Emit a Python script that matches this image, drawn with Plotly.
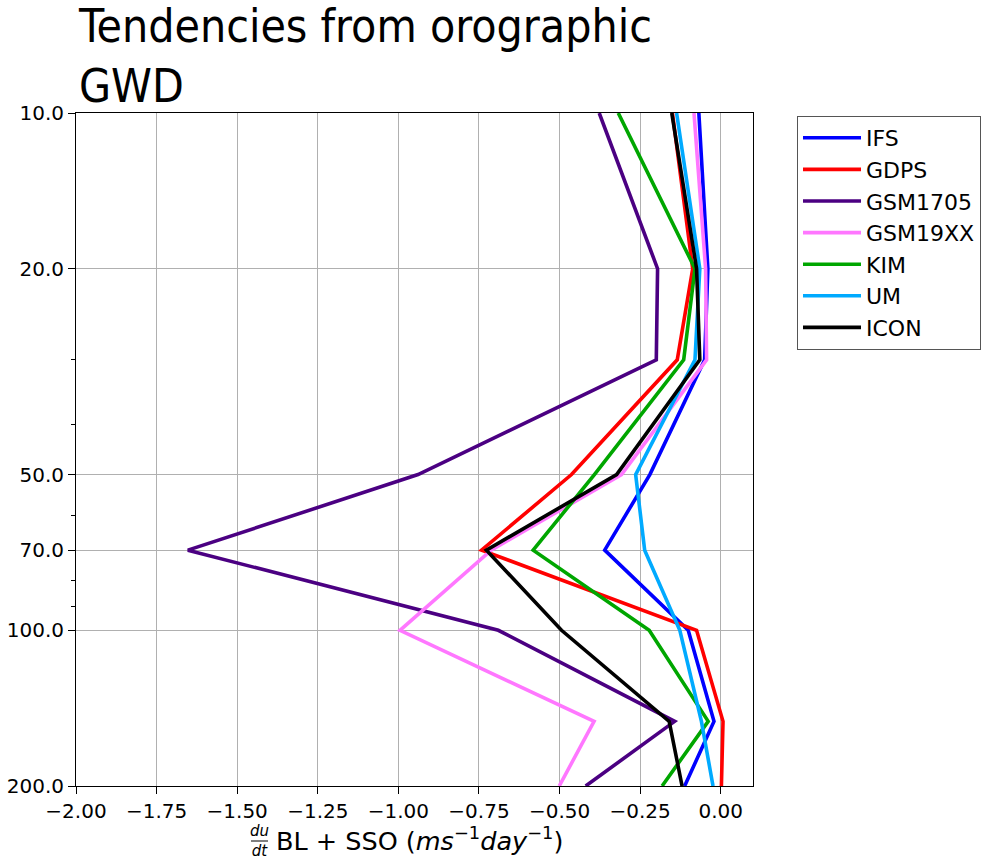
import plotly.graph_objects as go

# Pressure levels (hPa)
pressure = [10, 20, 30, 50, 70, 100, 150, 200]

# Zonal wind tendency du/dt from BL + SSO schemes (m s-1 day-1)
ifs = [-0.068, -0.040, -0.050, -0.220, -0.360, -0.101, -0.021, -0.112]
gdps = [-0.150, -0.087, -0.135, -0.463, -0.742, -0.075, 0.007, 0.002]
gsm1705 = [-0.377, -0.196, -0.200, -0.939, -1.653, -0.690, -0.143, -0.419]
gsm19xx = [-0.083, -0.047, -0.044, -0.308, -0.712, -0.995, -0.393, -0.501]
kim = [-0.318, -0.080, -0.115, -0.392, -0.582, -0.222, -0.039, -0.182]
um = [-0.137, -0.065, -0.080, -0.264, -0.236, -0.127, -0.060, -0.024]
icon = [-0.152, -0.075, -0.065, -0.323, -0.727, -0.494, -0.160, -0.120]

model_names = ["IFS", "GDPS", "GSM1705", "GSM19XX", "KIM", "UM", "ICON"]
model_values = [ifs, gdps, gsm1705, gsm19xx, kim, um, icon]
model_colors = ["#0000ff", "#ff0000", "#4b0082", "#ff77ff", "#00a600", "#00aaff", "#000000"]

x_ticks = [-2.0, -1.75, -1.5, -1.25, -1.0, -0.75, -0.5, -0.25, 0.0]
x_tick_text = ["\u22122.00", "\u22121.75", "\u22121.50", "\u22121.25", "\u22121.00",
               "\u22120.75", "\u22120.50", "\u22120.25", "0.00"]
y_ticks = [10, 20, 50, 70, 100, 200]
y_tick_text = ["10.0", "20.0", "50.0", "70.0", "100.0", "200.0"]
y_minor = [30, 40, 60, 80, 90]

W, H = 982, 861
L, R, T, B = 76, 753, 113, 786


def px_x(px):
    return (px - L) / (R - L)


def px_y(py):
    return (B - py) / (B - T)


fig = go.Figure()
for name, vals, col in zip(model_names, model_values, model_colors):
    fig.add_trace(go.Scatter(
        x=vals, y=pressure, mode="lines", name=name,
        line=dict(color=col, width=3.6),
    ))

axis_common = dict(
    showline=True, linecolor="#000000", linewidth=1, mirror=True,
    ticks="outside", ticklen=7, tickwidth=1, tickcolor="#000000",
    showgrid=True, gridcolor="#b0b0b0", gridwidth=1, zeroline=False,
    tickfont=dict(family="DejaVu Sans", size=20, color="#000000"),
)

fig.update_xaxes(
    range=[-2.0, 0.1], tickmode="array", tickvals=x_ticks, ticktext=x_tick_text,
    **axis_common,
)
fig.update_yaxes(
    type="log", range=[2.30103, 1.0], tickmode="array",
    tickvals=y_ticks, ticktext=y_tick_text,
    minor=dict(tickvals=y_minor, ticks="outside", ticklen=4, tickcolor="#000000",
               showgrid=False),
    **axis_common,
)

annotations = [
    # figure title
    dict(text="Tendencies from orographic<br>GWD", xref="paper", yref="paper",
         x=px_x(77), y=px_y(-2), xanchor="left", yanchor="top", align="left",
         showarrow=False, borderpad=0,
         font=dict(family="DejaVu Sans Condensed, DejaVu Sans", size=46, color="#000000")),
    # x-axis label: fraction du/dt
    dict(text="<i>du</i><br><i>dt</i>", xref="paper", yref="paper",
         x=px_x(259), y=px_y(841), xanchor="center", yanchor="middle",
         showarrow=False,
         font=dict(family="DejaVu Sans", size=15, color="#000000")),
    # x-axis label: remainder
    dict(text="BL + SSO (<i>ms</i><sup>\u22121</sup><i>day</i><sup>\u22121</sup>)",
         xref="paper", yref="paper", x=px_x(274), y=px_y(839),
         xanchor="left", yanchor="middle", showarrow=False,
         font=dict(family="DejaVu Sans", size=25.5, color="#000000")),
]

shapes = [
    dict(type="line", xref="paper", yref="paper", x0=px_x(251), x1=px_x(268),
         y0=px_y(841), y1=px_y(841), line=dict(color="#000000", width=1)),
]

fig.update_layout(
    width=W, height=H,
    margin=dict(l=L, r=W - R, t=T, b=H - B, pad=0, autoexpand=False),
    paper_bgcolor="#ffffff", plot_bgcolor="#ffffff",
    font=dict(family="DejaVu Sans", size=20, color="#000000"),
    showlegend=True,
    legend=dict(
        x=px_x(797), y=px_y(116), xanchor="left", yanchor="top",
        bgcolor="#ffffff", bordercolor="#555555", borderwidth=1,
        font=dict(family="DejaVu Sans", size=22, color="#000000"),
        traceorder="normal", itemwidth=58,
    ),
    annotations=annotations,
    shapes=shapes,
)

fig.write_html("out.html")
